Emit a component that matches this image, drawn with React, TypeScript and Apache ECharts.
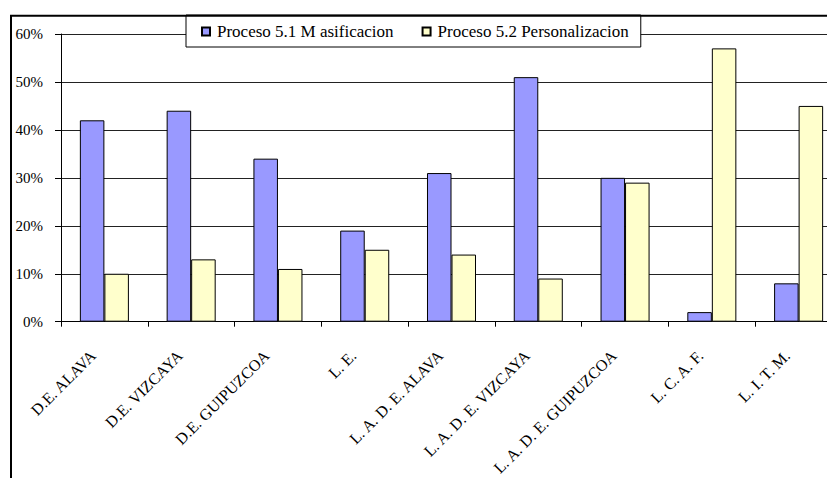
import React, { useEffect, useRef } from "react";
import * as echarts from "echarts";

const categories = [
  "D.E. ALAVA",
  "D.E. VIZCAYA",
  "D.E. GUIPUZCOA",
  "L. E.",
  "L. A. D. E. ALAVA",
  "L. A. D. E. VIZCAYA",
  "L. A. D. E. GUIPUZCOA",
  "L. C. A. F.",
  "L. I. T. M.",
];
const masificacion = [42, 44, 34, 19, 31, 51, 30, 2, 8];
const personalizacion = [10, 13, 11, 15, 14, 9, 29, 57, 45];
const seriesNames = ["Proceso 5.1 M asificacion", "Proceso 5.2 Personalizacion"];

const FONT = "Liberation Serif";

export default function App() {
  const ref = useRef<HTMLDivElement>(null);
  useEffect(() => {
    if (!ref.current) return;
    const chart = echarts.init(ref.current, null, { renderer: "svg" });
    chart.setOption({
      animation: false,
      backgroundColor: "#ffffff",
      textStyle: { fontFamily: FONT },
      grid: {
        left: 61,
        top: 34,
        width: 781,
        height: 287.7,
        containLabel: false,
        outerBoundsMode: "none",
      },
      legend: {
        left: 186,
        top: 15,
        padding: [8, 12, 7, 15],
        itemGap: 28,
        itemWidth: 8,
        itemHeight: 8,
        icon: "rect",
        backgroundColor: "#ffffff",
        borderColor: "#000000",
        borderWidth: 1,
        textStyle: { fontFamily: FONT, fontSize: 17, color: "#000", padding: [0, 0, 0, 2] },
        data: seriesNames,
        z: 10,
      },
      xAxis: {
        type: "category",
        data: categories,
        axisLine: { lineStyle: { color: "#000", width: 1 } },
        axisTick: { show: true, length: 5, alignWithLabel: false, lineStyle: { color: "#000" } },
        axisLabel: {
          rotate: 45,
          interval: 0,
          margin: 20,
          formatter: (v: string) => `{t|${v}}{s| }`,
          rich: {
            t: { fontFamily: FONT, fontSize: 16, color: "#000" },
            s: { width: 16, fontSize: 16 },
          },
          fontFamily: FONT,
          fontSize: 16,
          color: "#000",
        },
      },
      yAxis: {
        type: "value",
        min: 0,
        max: 60,
        interval: 10,
        axisLine: { show: true, lineStyle: { color: "#000", width: 1 } },
        axisTick: { show: true, length: 6, lineStyle: { color: "#000" } },
        splitLine: { show: true, lineStyle: { color: "#222", width: 1 } },
        axisLabel: {
          formatter: "{value}%",
          margin: 18,
          fontFamily: FONT,
          fontSize: 15,
          color: "#000",
        },
      },
      series: [
        {
          name: seriesNames[0],
          type: "bar",
          data: masificacion,
          barGap: "0%",
          barCategoryGap: "43.5%",
          itemStyle: { color: "#9999FF", borderColor: "#000", borderWidth: 1 },
        },
        {
          name: seriesNames[1],
          type: "bar",
          data: personalizacion,
          barGap: "0%",
          barCategoryGap: "43.5%",
          itemStyle: { color: "#FFFFCC", borderColor: "#000", borderWidth: 1 },
        },
      ],
      graphic: [
        {
          type: "rect",
          shape: { x: 11, y: 15.7, width: 1000, height: 1000 },
          style: { fill: "none", stroke: "#000", lineWidth: 2 },
          silent: true,
          z: 20,
        },
      ],
    });
    return () => chart.dispose();
  }, []);
  return (
    <div
      ref={ref}
      style={{ position: "absolute", left: 0, top: 0, width: 827, height: 478 }}
    />
  );
}
